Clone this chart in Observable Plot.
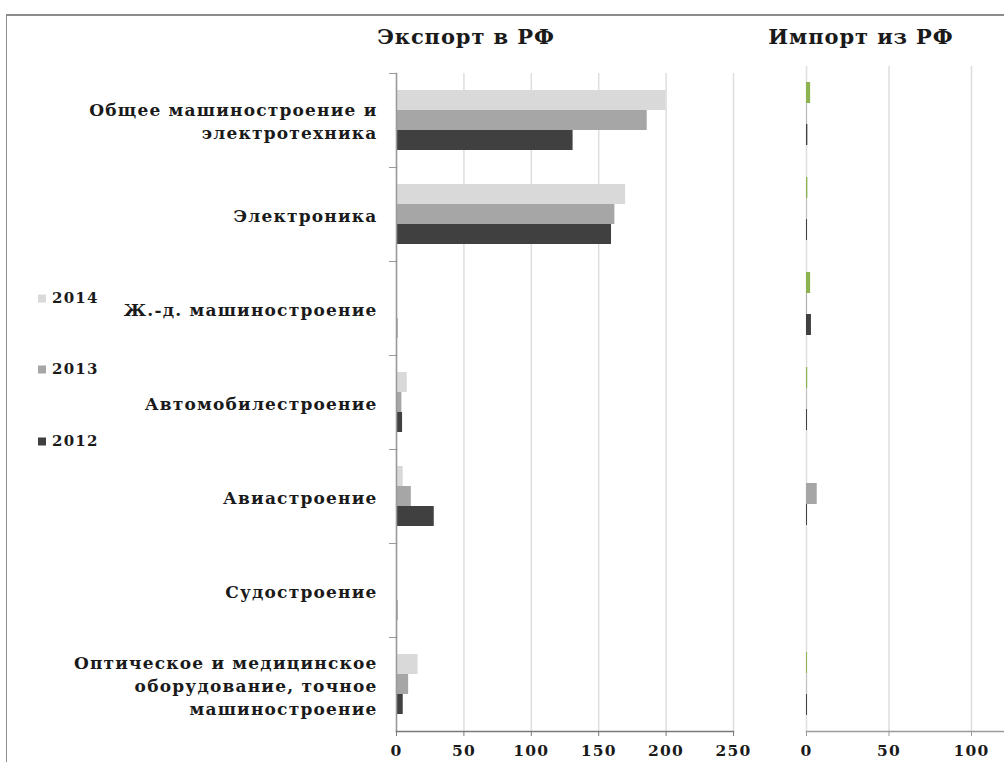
<!DOCTYPE html>
<html>
<head>
<meta charset="utf-8">
<script src="https://cdn.jsdelivr.net/npm/d3@7"></script>
<script src="https://cdn.jsdelivr.net/npm/@observablehq/plot@0.6"></script>
<style>
  body { margin: 0; background: #fff; }
  #chart { position: relative; width: 1004px; height: 762px; overflow: hidden;
           font-family: "DejaVu Serif", serif; font-weight: bold; color: #1a1a1a; background: #fff; }
  .border { position: absolute; left: 6px; top: 14px; right: -10px; bottom: -10px;
            border-top: 2px solid #8c8c8c; border-left: 1px solid #8c8c8c; }
  .title { position: absolute; top: 24px; font-size: 21px; letter-spacing: 0.9px; white-space: nowrap; transform: translateX(-50%); }
  .panel { position: absolute; top: 0; }
  .legend { position: absolute; left: 38px; font-size: 15px; letter-spacing: 1.2px; line-height: 1; display: flex; align-items: center; transform: translateY(-50%); }
  .legend i { display: inline-block; width: 8px; height: 8px; margin-right: 6px; }
</style>
</head>
<body>
<div id="chart">
  <div class="border"></div>
  <div class="title" style="left:466px">Экспорт в РФ</div>
  <div class="title" style="left:861px">Импорт из РФ</div>
</div>
<script>
// Machine-building branches (top to bottom), with line breaks for the axis labels
const categories = [
  "Общее машиностроение и\nэлектротехника",
  "Электроника",
  "Ж.-д. машиностроение",
  "Автомобилестроение",
  "Авиастроение",
  "Судостроение",
  "Оптическое и медицинское\nоборудование, точное\nмашиностроение"
];
const years = ["2014", "2013", "2012"];

// Export to Russia, by year
const export2014 = [200, 170, 0, 8, 5, 0, 16];
const export2013 = [186, 162, 0, 4, 11, 0.3, 9];
const export2012 = [131, 159.5, 1, 4.5, 28, 1, 5];

// Import from Russia, by year
const import2014 = [2.5, 0.8, 2.5, 0.7, 0, 0, 0.6];
const import2013 = [0.4, 0.3, 0.5, 0.3, 6.5, 0, 0.3];
const import2012 = [0.8, 0.6, 3, 0.6, 0.6, 0, 0.6];

const exportTicks = [0, 50, 100, 150, 200, 250];
const importTicks = [0, 50, 100];

const greys = ["#d9d9d9", "#a6a6a6", "#404040"];
const importColors = ["#8cb34f", "#a6a6a6", "#404040"];

function rows(series) {
  const out = [];
  categories.forEach((category, i) => {
    years.forEach((year, j) => out.push({category, year, value: series[j][i]}));
  });
  return out;
}
const exportRows = rows([export2014, export2013, export2012]);
const importRows = rows([import2014, import2013, import2012]);

const textStyle = {fontFamily: "DejaVu Serif", fontWeight: "bold", fontSize: "15.5px", letterSpacing: "1.2px",
                   color: "#1a1a1a", background: "transparent", overflow: "visible"};

const exportPlot = Plot.plot({
  width: 760, height: 762,
  marginLeft: 396, marginRight: 27, marginTop: 73, marginBottom: 31,
  style: textStyle,
  x: {domain: [0, 250], label: null},
  y: {domain: years, axis: null, paddingInner: 0, paddingOuter: 0.74},
  fy: {domain: categories, padding: 0, label: null},
  color: {domain: years, range: greys},
  marks: [
    Plot.gridX({ticks: exportTicks, stroke: "#dedede", strokeOpacity: 1, strokeWidth: 1.5}),
    Plot.barX(exportRows, {fy: "category", y: "year", x: "value", fill: "year"}),
    Plot.frame({anchor: "left", stroke: "#9a9a9a", strokeWidth: 1.5}),
    Plot.frame({anchor: "top", stroke: "#9a9a9a", insetLeft: -7, insetRight: 337}),
    Plot.frame({anchor: "bottom", facetAnchor: "bottom", stroke: "#7a7a7a", strokeWidth: 1.5}),
    Plot.axisX({anchor: "bottom", ticks: exportTicks, tickSize: 5, tickPadding: 8, stroke: "#7a7a7a", label: null}),
    Plot.axisFy({anchor: "left", tickSize: 0, tickPadding: 19, fontSize: 17, lineHeight: 1.35, label: null})
  ]
});

const importPlot = Plot.plot({
  width: 224, height: 762,
  marginLeft: 26, marginRight: 0, marginTop: 65, marginBottom: 31,
  style: textStyle,
  x: {domain: [0, 120], label: null},
  y: {domain: years, axis: null, paddingInner: 0, paddingOuter: 0.74},
  fy: {domain: categories, padding: 0, axis: null, label: null},
  color: {domain: years, range: importColors},
  marks: [
    Plot.gridX({ticks: importTicks, stroke: "#dedede", strokeOpacity: 1, strokeWidth: 1.5}),
    Plot.barX(importRows, {fy: "category", y: "year", x: "value", fill: "year"}),
    Plot.frame({anchor: "bottom", facetAnchor: "bottom", stroke: "#9a9a9a", strokeWidth: 1.5}),
    Plot.axisX({anchor: "bottom", ticks: importTicks, tickSize: 5, tickPadding: 8, stroke: "#9a9a9a", label: null})
  ]
});

const chart = document.getElementById("chart");
const left = document.createElement("div");
left.className = "panel"; left.style.left = "0px";
left.appendChild(exportPlot);
const right = document.createElement("div");
right.className = "panel"; right.style.left = "780px";
right.appendChild(importPlot);
chart.appendChild(left);
chart.appendChild(right);

// Legend: one swatch per year, stacked at the left
const legendY = [298, 369, 441];
years.forEach((year, j) => {
  const item = document.createElement("div");
  item.className = "legend";
  item.style.top = legendY[j] + "px";
  item.innerHTML = `<i style="background:${greys[j]}"></i>${year}`;
  chart.appendChild(item);
});
</script>
</body>
</html>
